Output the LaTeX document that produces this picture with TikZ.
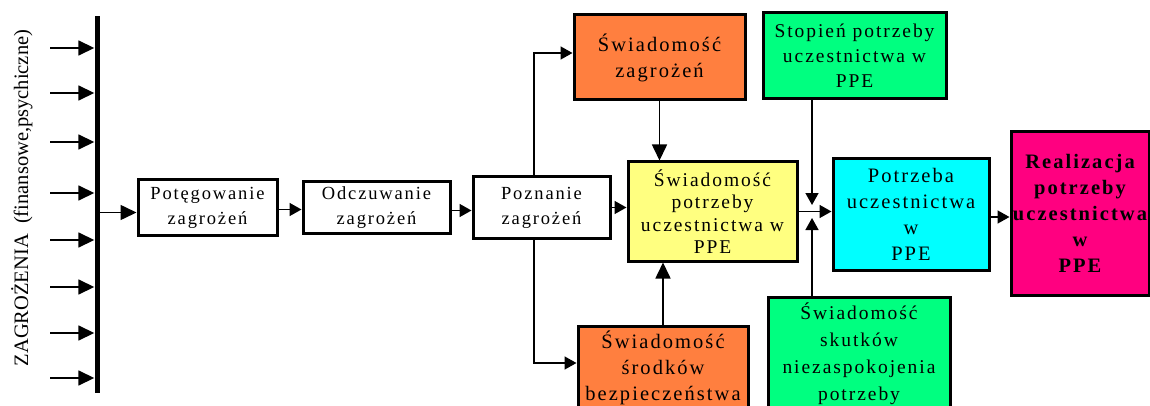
\documentclass[tikz,border=0pt]{standalone}
\usepackage{fontspec}
\setmainfont{Liberation Serif}
\newfontfamily\boxfont[LetterSpace=10]{Liberation Serif}
\usetikzlibrary{arrows.meta}

\definecolor{cOrange}{HTML}{FF7F3F}
\definecolor{cGreen}{HTML}{00FF80}
\definecolor{cYellow}{HTML}{FFFF80}
\definecolor{cCyan}{HTML}{00FFFF}
\definecolor{cMagenta}{HTML}{FF0080}

\tikzset{
  blk/.style={draw=black, line width=3pt, inner sep=0pt, align=center,
    font=\boxfont\fontsize{20.5}{26}\selectfont},
  small/.style={font=\boxfont\fontsize{18.5}{25}\selectfont},
  arr/.style={line width=1.6pt, -{Triangle[length=16pt,width=15pt]}},
  arrs/.style={line width=1.6pt, -{Triangle[length=12pt,width=13pt]}},
}

\begin{document}
\begin{tikzpicture}[x=1pt, y=-1pt]
\useasboundingbox (0,0) rectangle (1150,406);
\clip (0,0) rectangle (1150,406);

% threat label and collecting bar
\node[rotate=90, inner sep=0pt, font=\fontsize{20.5}{24}\selectfont] (lab) at (22,198)
  {ZAGROŻENIA\ \ (finansowe,psychiczne)};
\node[fill=black, inner sep=0pt, minimum width=5pt, minimum height=376pt] (bar) at (97,204.5) {};

% incoming threats
\foreach \i/\y in {1/48,2/93,3/142,4/193,5/240,6/287,7/333,8/378}{
  \coordinate (in\i) at (50,\y);
  \draw[arr] (in\i) -- (bar.west |- in\i);
}

% boxes
\node[blk, small, minimum width=139pt, minimum height=55pt] (pot) at (207.5,207.5)
  {Potęgowanie\\zagrożeń};
\node[blk, small, minimum width=147pt, minimum height=51pt] (odc) at (376.5,207.5)
  {Odczuwanie\\zagrożeń};
\node[blk, small, minimum width=137pt, minimum height=61pt] (poz) at (541.5,207.5)
  {Poznanie\\zagrożeń};
\node[blk, fill=cOrange, minimum width=171pt, minimum height=85pt] (swz) at (659.5,57.5)
  {Świadomość\\zagrożeń};
\node[blk, fill=cOrange, minimum width=170pt, minimum height=83pt] (swb) at (663,367.5)
  {Świadomość\\środków\\bezpieczeństwa};
\node[blk, fill=cYellow, font=\boxfont\fontsize{19.5}{22.5}\selectfont,
  minimum width=169pt, minimum height=99pt] (swp) at (712.5,211.5)
  {Świadomość\\potrzeby\\uczestnictwa w\\PPE};
\node[blk, fill=cGreen, font=\boxfont\fontsize{19.5}{25}\selectfont,
  minimum width=183pt, minimum height=86pt] (stp) at (854.5,56)
  {Stopień potrzeby\\uczestnictwa w\\PPE};
\node[blk, fill=cGreen, font=\boxfont\fontsize{19.5}{27}\selectfont,
  minimum width=182pt, minimum height=114pt] (sks) at (859,354)
  {Świadomość\\skutków\\niezaspokojenia\\potrzeby};
\node[blk, fill=cCyan, minimum width=156pt, minimum height=111pt] (ptr) at (911,214.5)
  {Potrzeba\\uczestnictwa\\w\\PPE};
\node[blk, fill=cMagenta, font=\boxfont\bfseries\fontsize{20.5}{26}\selectfont,
  minimum width=138pt, minimum height=163pt] (rea) at (1080,213.5)
  {Realizacja\\potrzeby\\uczestnictwa\\w\\PPE};

% connectors
\draw[arr] ([yshift=-5pt]bar.east |- pot.west) -- ([yshift=-5pt]pot.west);
\draw[arrs] ([yshift=-2pt]pot.east) -- ([yshift=-2pt]pot.east -| odc.west);
\draw[arrs] ([yshift=-3pt]odc.east) -- ([yshift=-3pt]odc.east -| poz.west);
\draw[arrs] (poz.east) -- (poz.east -| swp.west);
\draw[arrs] ([xshift=-7.5pt]poz.north) |- ([yshift=4.5pt]swz.west);
\draw[arrs] ([xshift=-7.5pt]poz.south) |- ([yshift=4.5pt]swb.west);
\draw[arr] (swz.south) -- (swz.south |- swp.north);
\draw[arr] (swb.north) -- (swb.north |- swp.south);

\coordinate (jtop) at (812,205);
\coordinate (jbot) at (812,218);
\draw[arrs] (stp.south -| jtop) -- (jtop);
\draw[arrs] (sks.north -| jbot) -- (jbot);
\draw[arrs] (swp.east) -- (swp.east -| ptr.west);
\draw[arrs] ([yshift=-2.5pt]ptr.east) -- ([yshift=-2.5pt]ptr.east -| rea.west);
\end{tikzpicture}
\end{document}
